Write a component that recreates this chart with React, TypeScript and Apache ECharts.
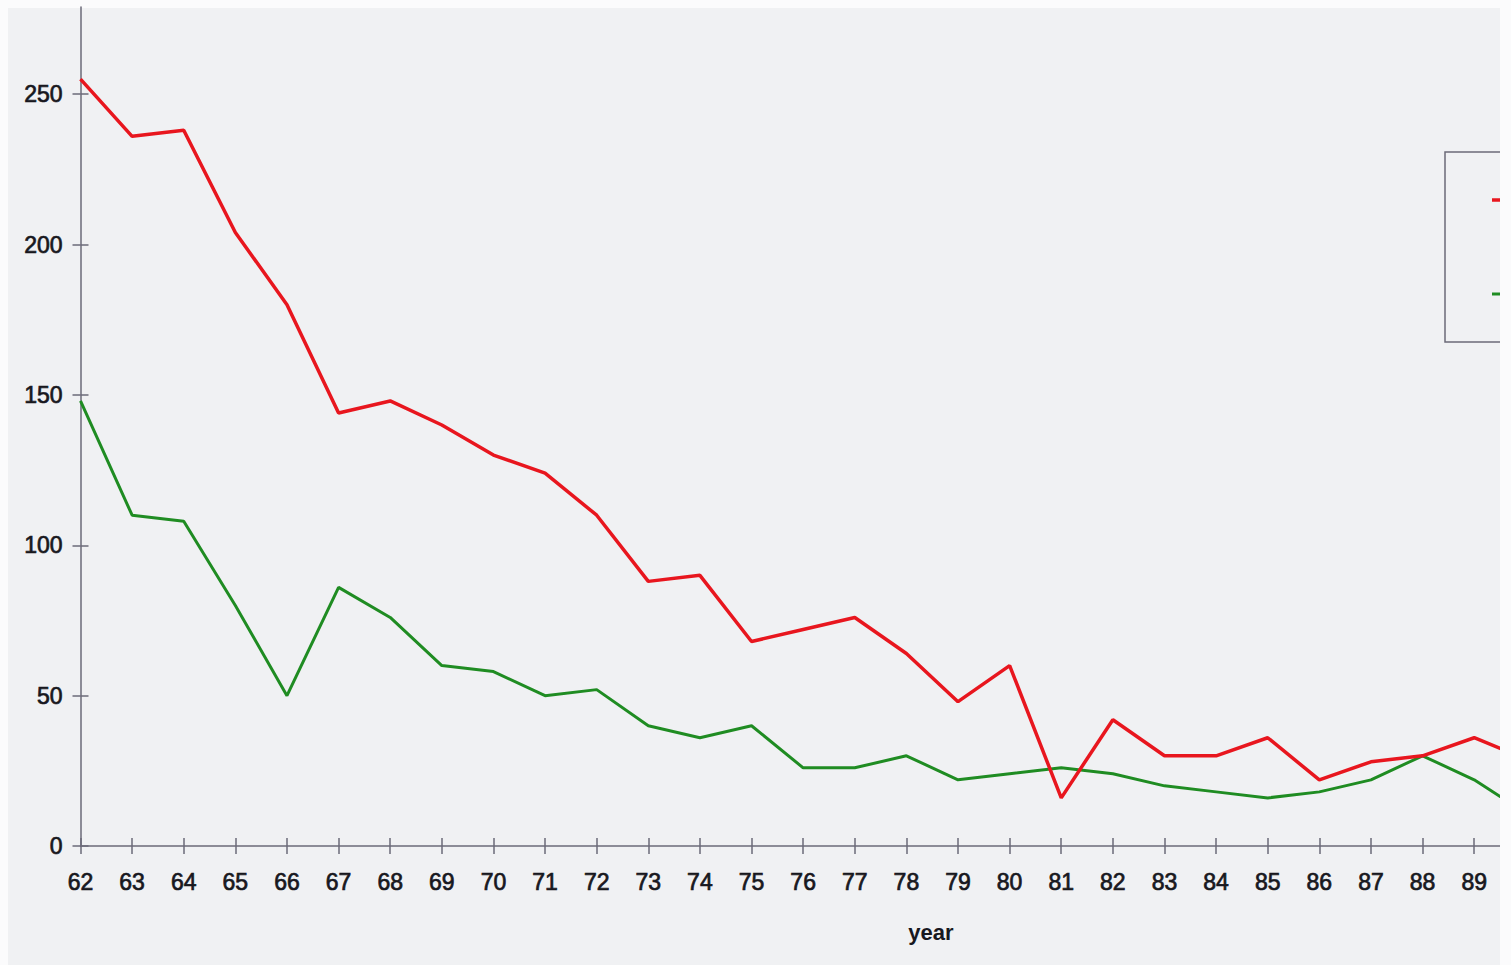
import React, { useEffect, useRef } from "react";
import * as echarts from "echarts";

const years = [62, 63, 64, 65, 66, 67, 68, 69, 70, 71, 72, 73, 74, 75, 76, 77, 78, 79, 80, 81, 82, 83, 84, 85, 86, 87, 88, 89, 90];
const redValues = [255, 236, 238, 204, 180, 144, 148, 140, 130, 124, 110, 88, 90, 68, 72, 76, 64, 48, 60, 16, 42, 30, 30, 36, 22, 28, 30, 36, 29];
const greenValues = [148, 110, 108, 80, 50, 86, 76, 60, 58, 50, 52, 40, 36, 40, 26, 26, 30, 22, 24, 26, 24, 20, 18, 16, 18, 22, 30, 22, 11];
const xTickLabels = [62, 63, 64, 65, 66, 67, 68, 69, 70, 71, 72, 73, 74, 75, 76, 77, 78, 79, 80, 81, 82, 83, 84, 85, 86, 87, 88, 89];
const yTickLabels = [0, 50, 100, 150, 200, 250];
const xAxisName = "year";

export default function App() {
  const ref = useRef<HTMLDivElement>(null);
  useEffect(() => {
    if (!ref.current) return;
    const chart = echarts.init(ref.current, null, { renderer: "svg" });
    const axisColor = "#6b6a78";
    const labelColor = "#18181e";
    const font = "Liberation Sans";
    const xBase = {
      type: "value" as const,
      position: "bottom" as const,
      min: 62,
      max: 89.5,
      interval: 1,
      splitLine: { show: false },
    };
    const yBase = {
      type: "value" as const,
      position: "left" as const,
      min: 0,
      max: 279,
      splitLine: { show: false },
    };
    const labelStroke = { textBorderColor: labelColor, textBorderWidth: 0.7 };
    chart.setOption({
      animation: false,
      backgroundColor: "#fbfbfc",
      grid: { left: 80.5, right: 11, top: 7, bottom: 119 },
      xAxis: [
        {
          ...xBase,
          axisLine: { show: true, onZero: false, lineStyle: { color: axisColor, width: 1.5 } },
          axisTick: { show: true, length: 8, lineStyle: { color: axisColor, width: 1.5 }, customValues: xTickLabels },
          axisLabel: {
            show: true,
            margin: 24,
            color: labelColor,
            fontFamily: font,
            fontSize: 23,
            ...labelStroke,
            customValues: xTickLabels,
          },
        },
        {
          ...xBase,
          axisLine: { show: false },
          axisTick: { show: true, inside: true, length: 8, lineStyle: { color: axisColor, width: 1.5 }, customValues: xTickLabels },
          axisLabel: { show: false },
        },
      ],
      yAxis: [
        {
          ...yBase,
          axisLine: { show: true, onZero: false, lineStyle: { color: axisColor, width: 1.5 } },
          axisTick: { show: true, length: 8, lineStyle: { color: axisColor, width: 1.5 }, customValues: yTickLabels },
          axisLabel: {
            show: true,
            margin: 18,
            color: labelColor,
            fontFamily: font,
            fontSize: 23,
            ...labelStroke,
            customValues: yTickLabels,
          },
        },
        {
          ...yBase,
          axisLine: { show: false },
          axisTick: { show: true, inside: true, length: 8, lineStyle: { color: axisColor, width: 1.5 }, customValues: yTickLabels },
          axisLabel: { show: false },
        },
      ],
      series: [
        {
          type: "line",
          name: "red",
          xAxisIndex: 0,
          yAxisIndex: 0,
          data: years.map((y, i) => [y, redValues[i]]),
          showSymbol: false,
          clip: true,
          lineStyle: { color: "#e8161e", width: 3.5 },
          z: 3,
        },
        {
          type: "line",
          name: "green",
          xAxisIndex: 0,
          yAxisIndex: 0,
          data: years.map((y, i) => [y, greenValues[i]]),
          showSymbol: false,
          clip: true,
          lineStyle: { color: "#1f8c22", width: 3 },
          z: 2,
        },
      ],
      graphic: [
        {
          type: "rect",
          z: -10,
          silent: true,
          shape: { x: 8, y: 8, width: 1492, height: 957 },
          style: { fill: "#f0f1f3" },
        },
        {
          type: "text",
          z: 5,
          x: 931,
          y: 932,
          style: {
            text: xAxisName,
            fontFamily: font,
            fontSize: 22,
            fontWeight: "bold",
            fill: "#18181e",
            textStroke: "#18181e",
            align: "center",
            verticalAlign: "middle",
          },
        },
        {
          type: "rect",
          z: 5,
          shape: { x: 1445, y: 152, width: 120, height: 190 },
          style: { fill: "none", stroke: axisColor, lineWidth: 1.5 },
        },
        {
          type: "line",
          z: 5,
          shape: { x1: 1492, y1: 200, x2: 1520, y2: 200 },
          style: { stroke: "#e8161e", lineWidth: 3.5 },
        },
        {
          type: "line",
          z: 5,
          shape: { x1: 1492, y1: 294, x2: 1520, y2: 294 },
          style: { stroke: "#1f8c22", lineWidth: 3 },
        },
        {
          type: "rect",
          z: 20,
          silent: true,
          shape: { x: 1500, y: 0, width: 11, height: 965 },
          style: { fill: "#fbfbfc" },
        },
      ],
    });
    return () => chart.dispose();
  }, []);
  return (
    <div
      ref={ref}
      style={{ position: "absolute", left: 0, top: 0, width: 1511, height: 965 }}
    />
  );
}
